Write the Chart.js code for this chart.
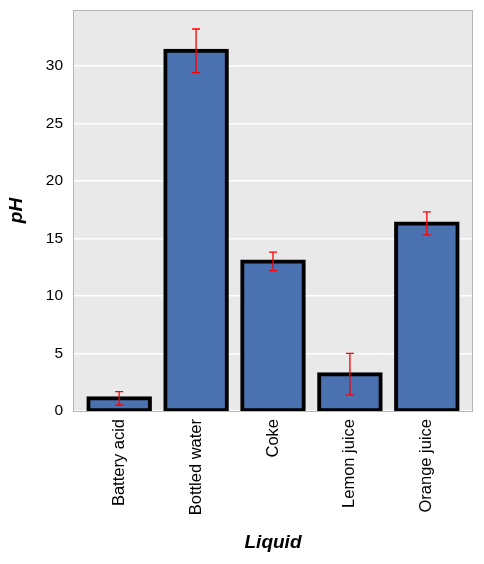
<!DOCTYPE html>
<html>
<head>
<meta charset="utf-8">
<script src="https://cdn.jsdelivr.net/npm/chart.js@4.4.1/dist/chart.umd.min.js"></script>
<style>
  html, body { margin: 0; padding: 0; background: #fff; }
  canvas { display: block; }
</style>
</head>
<body>
<canvas id="chart" width="484" height="564"></canvas>
<script>
// Data
const liquids = ['Battery acid', 'Bottled water', 'Coke', 'Lemon juice', 'Orange juice'];
const phValues = [1.1, 31.3, 13.0, 3.2, 16.3];
const phErrors = [0.58, 1.9, 0.8, 1.8, 1.0];
const yTicks = [0, 5, 10, 15, 20, 25, 30];

const FONT = "'Liberation Sans', Arial, sans-serif";

// plot background + frame
const frame = {
  id: 'frame',
  beforeDraw(chart) {
    const { ctx, chartArea: a } = chart;
    ctx.save();
    ctx.fillStyle = '#e9e9e9';
    ctx.fillRect(a.left, a.top, a.right - a.left, a.bottom - a.top);
    ctx.restore();
  },
  afterDraw(chart) {
    const { ctx, chartArea: a } = chart;
    ctx.save();
    ctx.strokeStyle = '#b4b4b4';
    ctx.lineWidth = 1;
    ctx.strokeRect(a.left + 0.5, a.top + 0.5, a.right - a.left - 1, a.bottom - a.top);
    ctx.restore();
  }
};

// red error bars with small caps
const errorBars = {
  id: 'errorBars',
  afterDatasetsDraw(chart) {
    const { ctx, scales: { x, y } } = chart;
    ctx.save();
    ctx.strokeStyle = '#ff0000';
    ctx.lineWidth = 1.3;
    phValues.forEach((v, i) => {
      const px = x.getPixelForValue(i);
      const top = y.getPixelForValue(v + phErrors[i]);
      const bot = y.getPixelForValue(v - phErrors[i]);
      ctx.beginPath();
      ctx.moveTo(px, top); ctx.lineTo(px, bot);
      ctx.moveTo(px - 4, top); ctx.lineTo(px + 4, top);
      ctx.moveTo(px - 4, bot); ctx.lineTo(px + 4, bot);
      ctx.stroke();
    });
    ctx.restore();
  }
};

new Chart(document.getElementById('chart'), {
  type: 'bar',
  data: {
    datasets: [{
      data: phValues.map((v, i) => ({ x: i, y: v })),
      backgroundColor: '#4a72b0',
      borderColor: '#000',
      borderWidth: 4,
      borderSkipped: false,
      inflateAmount: 2,
      barPercentage: 0.8,
      categoryPercentage: 1,
      clip: 0
    }]
  },
  options: {
    responsive: false,
    animation: false,
    layout: { padding: { top: 10, right: 11, left: 0, bottom: 0 } },
    plugins: { legend: { display: false }, tooltip: { enabled: false } },
    scales: {
      x: {
        type: 'linear',
        offset: false,
        min: -0.6,
        max: 4.6,
        afterBuildTicks: s => { s.ticks = liquids.map((_, i) => ({ value: i })); },
        afterFit: s => { s.height = 153; s.paddingLeft = 0; s.paddingRight = 0; },
        grid: { display: false, drawTicks: false },
        border: { display: false },
        ticks: {
          autoSkip: false,
          maxRotation: 90,
          minRotation: 90,
          padding: 8,
          color: '#000',
          font: { family: FONT, size: 16.5 },
          callback: v => liquids[v]
        },
        title: {
          display: true,
          text: 'Liquid',
          color: '#000',
          padding: { top: 0, bottom: 10 },
          font: { family: FONT, size: 19, weight: 'bold', style: 'italic' }
        }
      },
      y: {
        min: 0,
        max: 34.85,
        afterBuildTicks: s => { s.ticks = yTicks.map(v => ({ value: v })); },
        afterFit: s => { s.width = 73; s.paddingTop = 0; s.paddingBottom = 0; },
        grid: { color: '#ffffff', lineWidth: 1.5, drawTicks: false },
        border: { display: false },
        ticks: {
          padding: 10,
          color: '#000',
          font: { family: FONT, size: 15.5 }
        },
        title: {
          display: true,
          text: 'pH',
          color: '#000',
          padding: { top: 5, bottom: 0 },
          font: { family: FONT, size: 19, weight: 'bold', style: 'italic' }
        }
      }
    }
  },
  plugins: [frame, errorBars]
});
</script>
</body>
</html>
